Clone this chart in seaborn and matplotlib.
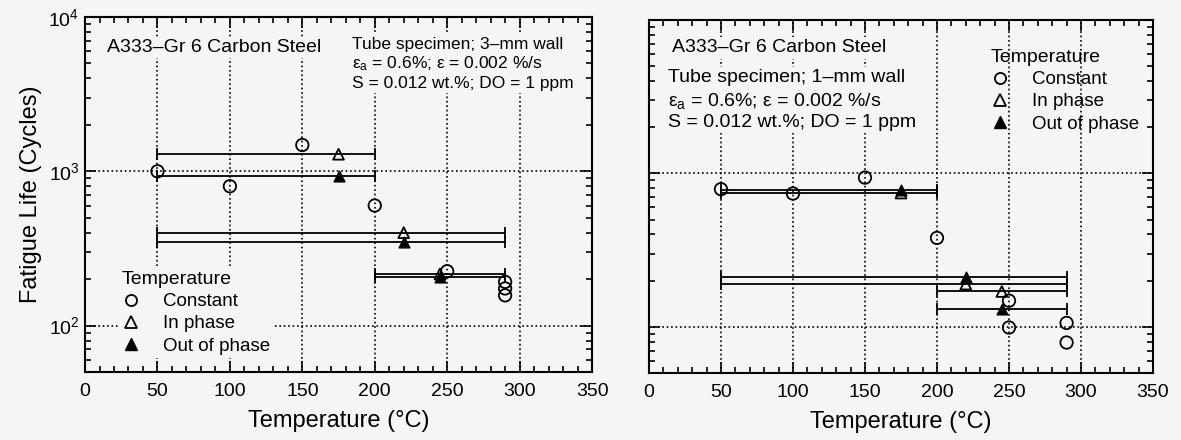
import numpy as np
import pandas as pd
import matplotlib
matplotlib.use("Agg")
import matplotlib.pyplot as plt
from matplotlib.lines import Line2D
from matplotlib.ticker import LogLocator, MultipleLocator
import seaborn as sns

# --- data (temperature in C, fatigue life in cycles) ---
# left panel: tube specimen, 3-mm wall
const_T_3mm = [50, 100, 150, 200, 250, 290, 290, 290]
const_N_3mm = [1000, 800, 1480, 600, 225, 192, 174, 157]
inph_T_3mm = [175, 220, 245]
inph_N_3mm = [1290, 400, 216]
outph_T_3mm = [175, 220, 245]
outph_N_3mm = [935, 350, 205]
range_lo_3mm = [50, 50, 200]
range_hi_3mm = [200, 290, 290]

# right panel: tube specimen, 1-mm wall
const_T_1mm = [50, 100, 150, 200, 250, 250, 290, 290]
const_N_1mm = [790, 740, 940, 380, 148, 99, 106, 79]
inph_T_1mm = [175, 220, 245]
inph_N_1mm = [745, 190, 170]
outph_T_1mm = [175, 220, 245]
outph_N_1mm = [775, 210, 131]
range_lo_1mm = [50, 50, 200]
range_hi_1mm = [200, 290, 290]

bg = "#f5f5f5"
sns.set_theme(style="ticks")
plt.rcParams["font.family"] = ["Liberation Sans", "DejaVu Sans"]
plt.rcParams["mathtext.default"] = "regular"
plt.rcParams["xtick.direction"] = "in"
plt.rcParams["ytick.direction"] = "in"
for key in ["text.color", "axes.labelcolor", "xtick.color", "ytick.color",
            "xtick.labelcolor", "ytick.labelcolor"]:
    plt.rcParams[key] = "black"

fig = plt.figure(figsize=(11.81, 4.4), dpi=100, facecolor=bg)
ax1 = fig.add_axes([0.0720, 0.1545, 0.4293, 0.8068])
ax2 = fig.add_axes([0.5495, 0.1523, 0.4268, 0.8020])


def draw_panel(ax, cT, cN, iT, iN, oT, oN, lo, hi):
    # cycling range bars for in-phase / out-of-phase tests
    for T, N in [(iT, iN), (oT, oN)]:
        T = np.array(T)
        xerr = [T - np.array(lo), np.array(hi) - T]
        ax.errorbar(T, N, xerr=xerr, fmt="none", ecolor="black",
                    elinewidth=1.3, capsize=4.5, capthick=1.3, zorder=3)
    sns.scatterplot(x=cT, y=cN, ax=ax, marker="o", s=80, facecolors="none",
                    edgecolor="black", linewidth=1.3, zorder=4)
    sns.scatterplot(x=iT, y=iN, ax=ax, marker="^", s=60, facecolors="none",
                    edgecolor="black", linewidth=1.3, zorder=4)
    sns.scatterplot(x=oT, y=oN, ax=ax, marker="^", s=60, color="black",
                    edgecolor="black", linewidth=1.0, zorder=5)

    ax.set_facecolor(bg)
    ax.set_yscale("log")
    ax.set_xlim(0, 350)
    ax.set_ylim(50, 1e4)
    ax.xaxis.set_major_locator(MultipleLocator(50))
    ax.xaxis.set_minor_locator(MultipleLocator(10))
    ax.yaxis.set_major_locator(LogLocator(base=10))
    ax.yaxis.set_minor_locator(LogLocator(base=10, subs=np.arange(2, 10)))
    ax.tick_params(which="both", top=True, right=True, color="black",
                   labelsize=14, pad=8, width=1.2)
    ax.tick_params(which="major", length=8)
    ax.tick_params(which="minor", length=4.5)
    ax.tick_params(axis="y", pad=4)
    ax.grid(True, which="major", ls=":", color="black", lw=1.2)
    for sp in ax.spines.values():
        sp.set_color("black")
        sp.set_linewidth(1.5)
    ax.set_xlabel("Temperature (\u00b0C)", fontsize=17, labelpad=7)


draw_panel(ax1, const_T_3mm, const_N_3mm, inph_T_3mm, inph_N_3mm,
           outph_T_3mm, outph_N_3mm, range_lo_3mm, range_hi_3mm)
draw_panel(ax2, const_T_1mm, const_N_1mm, inph_T_1mm, inph_N_1mm,
           outph_T_1mm, outph_N_1mm, range_lo_1mm, range_hi_1mm)

ax1.set_ylabel("Fatigue Life (Cycles)", fontsize=17, labelpad=5)
ax2.tick_params(axis="y", which="both", labelleft=False)

# annotations
box = dict(facecolor=bg, edgecolor="none", pad=1.5)
ax1.text(0.043, 0.915, "A333\u2013Gr 6 Carbon Steel", transform=ax1.transAxes,
         fontsize=14, va="center", bbox=box, zorder=6)
left_lines = ["Tube specimen; 3\u2013mm wall",
              "\u03b5$_a$ = 0.6%; \u03b5 = 0.002 %/s",
              "S = 0.012 wt.%; DO = 1 ppm"]
for txt, yy in zip(left_lines, [0.924, 0.868, 0.814]):
    ax1.text(0.527, yy, txt, transform=ax1.transAxes, fontsize=12.5,
             va="center", bbox=box, zorder=6)

ax2.text(0.046, 0.921, "A333\u2013Gr 6 Carbon Steel", transform=ax2.transAxes,
         fontsize=14, va="center", bbox=box, zorder=6)
right_lines = ["Tube specimen; 1\u2013mm wall",
               "\u03b5$_a$ = 0.6%; \u03b5 = 0.002 %/s",
               "S = 0.012 wt.%; DO = 1 ppm"]
for txt, yy in zip(right_lines, [0.836, 0.772, 0.709]):
    ax2.text(0.038, yy, txt, transform=ax2.transAxes, fontsize=14,
             va="center", bbox=box, zorder=6)

# legends
handles = [
    Line2D([], [], marker="o", ls="none", mfc="none", mec="black", mew=1.3, ms=8),
    Line2D([], [], marker="^", ls="none", mfc="none", mec="black", mew=1.3, ms=8),
    Line2D([], [], marker="^", ls="none", mfc="black", mec="black", ms=8),
]
labels = ["Constant", "In phase", "Out of phase"]
leg_kw = dict(title="Temperature", fontsize=13.5, title_fontsize=14,
              handlelength=1.0, handletextpad=1.2, labelspacing=0.27,
              borderpad=0.2, alignment="left")
leg1 = ax1.legend(handles, labels, loc="lower left", bbox_to_anchor=(0.047, 0.012),
                  frameon=True, facecolor=bg, edgecolor="none", framealpha=1,
                  **leg_kw)
leg1.set_zorder(6)
leg2 = ax2.legend(handles, labels, loc="upper left", bbox_to_anchor=(0.652, 0.955),
                  frameon=False, **leg_kw)

fig.savefig("out.png", dpi=100, facecolor=bg)
